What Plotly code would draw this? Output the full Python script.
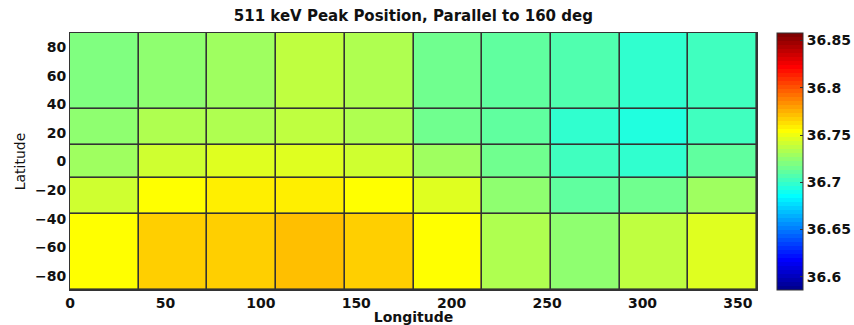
import numpy as np
import plotly.graph_objects as go

# Bin edges (equal-area latitude bands, 36-degree longitude bins)
lon_edges = [0, 36, 72, 108, 144, 180, 216, 252, 288, 324, 360]
lat_edges = [-90, -36.87, -11.54, 11.54, 36.87, 90]

# 511 keV peak position (keV), rows from south to north
row_s90_s37 = [36.754, 36.767, 36.767, 36.771, 36.767, 36.754, 36.733, 36.724, 36.737, 36.745]
row_s37_s12 = [36.741, 36.754, 36.758, 36.758, 36.754, 36.745, 36.724, 36.711, 36.716, 36.728]
row_s12_n12 = [36.728, 36.741, 36.745, 36.745, 36.741, 36.728, 36.716, 36.703, 36.699, 36.711]
row_n12_n37 = [36.724, 36.733, 36.733, 36.737, 36.733, 36.716, 36.711, 36.699, 36.694, 36.703]
row_n37_n90 = [36.720, 36.724, 36.728, 36.737, 36.733, 36.716, 36.711, 36.707, 36.699, 36.703]

z_min, z_max = 36.586, 36.858
x_ticks = [0, 50, 100, 150, 200, 250, 300, 350]
y_ticks = [-80, -60, -40, -20, 0, 20, 40, 60, 80]
cb_ticks = [36.6, 36.65, 36.7, 36.75, 36.8, 36.85]
cb_text = ["36.6", "36.65", "36.7", "36.75", "36.8", "36.85"]


def jet(m=64):
    n = int(np.ceil(m / 4))
    u = np.concatenate([np.arange(1, n + 1) / n, np.ones(n - 1), np.arange(n, 0, -1) / n])
    g = int(np.ceil(n / 2)) - (1 if m % 4 == 1 else 0) + np.arange(1, len(u) + 1)
    r = g + n
    b = g - n
    cmap = np.zeros((m, 3))
    for idx_arr, col in ((r, 0), (g, 1), (b, 2)):
        for k, ix in enumerate(idx_arr):
            if 1 <= ix <= m:
                cmap[ix - 1, col] = u[k]
    return cmap


cm = jet(64)
colorscale = []
for i, c in enumerate(cm):
    col = "rgb(%d,%d,%d)" % tuple(int(round(v * 255)) for v in c)
    colorscale.append([i / 64, col])
    colorscale.append([(i + 1) / 64, col])

z = [row_s90_s37, row_s37_s12, row_s12_n12, row_n12_n37, row_n37_n90]

FAM = "DejaVu Sans, Verdana, sans-serif"
font_tick = dict(family=FAM, size=14, color="#111", weight="bold")

fig = go.Figure(
    go.Heatmap(
        x=lon_edges,
        y=lat_edges,
        z=z,
        zmin=z_min,
        zmax=z_max,
        colorscale=colorscale,
        xgap=1.6,
        ygap=1.6,
        colorbar=dict(
            x=1.029,
            xanchor="left",
            y=0.5,
            yanchor="middle",
            len=1.0,
            lenmode="fraction",
            thickness=26,
            thicknessmode="pixels",
            outlinecolor="#333",
            outlinewidth=1,
            tickvals=cb_ticks,
            ticktext=cb_text,
            ticks="inside",
            ticklen=3,
            tickcolor="#333",
            tickfont=font_tick,
            xpad=0,
            ypad=0,
        ),
    )
)

fig.update_layout(
    width=854,
    height=325,
    margin=dict(l=70, r=97, t=33, b=35, autoexpand=False),
    paper_bgcolor="white",
    plot_bgcolor="#333333",
    title=dict(
        text="511 keV Peak Position, Parallel to 160 deg",
        x=(70 + 756.7) / 2 / 854,
        xanchor="center",
        y=1 - 16 / 325,
        yanchor="middle",
        font=dict(family=FAM, size=15, color="#111", weight="bold"),
    ),
)

fig.update_xaxes(
    range=[0, 360],
    tickvals=x_ticks,
    ticks="",
    tickfont=font_tick,
    showline=True,
    linecolor="#333",
    linewidth=1,
    mirror=True,
    showgrid=False,
    zeroline=False,
    automargin=False,
    title=dict(text="Longitude", font=dict(family=FAM, size=14, color="#111", weight="bold"), standoff=1),
)
fig.update_yaxes(
    range=[-90, 90],
    tickvals=y_ticks,
    ticks="",
    tickfont=font_tick,
    showline=True,
    linecolor="#333",
    linewidth=1,
    mirror=True,
    showgrid=False,
    zeroline=False,
    automargin=False,
    title=dict(text="Latitude", font=dict(family=FAM, size=14, color="#111"), standoff=6),
)

fig.write_html("out.html")
